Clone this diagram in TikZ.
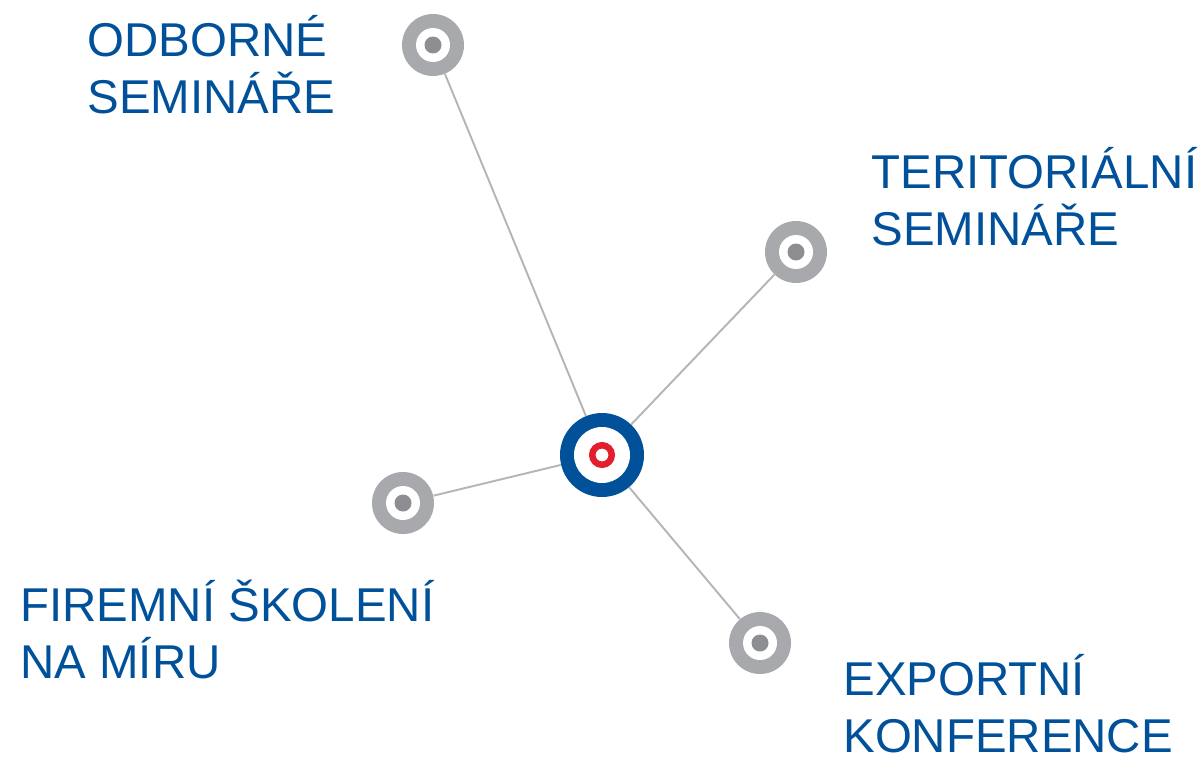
\documentclass[tikz,border=0pt]{standalone}
\usepackage{fontspec}
\setmainfont{Liberation Sans}
\usetikzlibrary{backgrounds}
\definecolor{hubblue}{HTML}{00519A}
\definecolor{hubred}{HTML}{E31E2D}
\definecolor{satgrey}{HTML}{A7A9AC}
\definecolor{dotgrey}{HTML}{8C8E91}
\definecolor{linkgrey}{HTML}{B5B5B5}
\tikzset{
	sat/.style={circle, fill=satgrey, minimum size=1.24cm, inner sep=0pt,
		path picture={\fill[white] (path picture bounding box.center) circle (0.34);
			\fill[dotgrey] (path picture bounding box.center) circle (0.17);}},
	hub/.style={circle, fill=hubblue, minimum size=1.68cm, inner sep=0pt,
		path picture={\fill[white] (path picture bounding box.center) circle (0.56);
			\draw[hubred, line width=0.13cm] (path picture bounding box.center) circle (0.195);}},
	lbl/.style={anchor=base west, align=left, inner sep=0pt, text=hubblue,
		font=\fontsize{27}{32}\selectfont},
	link/.style={draw=linkgrey, line width=1.1pt}
}

\begin{document}
\begin{tikzpicture}
			%%%%% START %%%%%
			\useasboundingbox (0, 0) rectangle (24.08, 15.14);
			
			\node[hub] (hub) at (12.04, 6.04) {};
			
			\node[sat] (odborne) at (8.66, 14.24) {};
			\node[sat] (teritorialni) at (15.92, 10.10) {};
			\node[sat] (firemni) at (8.06, 5.08) {};
			\node[sat] (exportni) at (15.20, 2.28) {};
			
			\begin{scope}[on background layer]
				\draw[link] (hub) -- (odborne);
				\draw[link] (hub) -- (teritorialni);
				\draw[link] (hub) -- (firemni);
				\draw[link] (hub) -- (exportni);
			\end{scope}
			
			% base anchor sits on the last line
			\node[lbl] (odborneText) at (1.74, 12.88) {ODBORNÉ\\SEMINÁŘE};
			\node[lbl] (teritorialniText) at (17.42, 10.24) {TERITORIÁLNÍ\\SEMINÁŘE};
			\node[lbl] (firemniText) at (0.40, 1.58) {FIREMNÍ ŠKOLENÍ\\NA MÍRU};
			\node[lbl] (exportniText) at (16.86, 0.10) {EXPORTNÍ\\KONFERENCE};
			%%%%% END %%%%%
\end{tikzpicture}
\end{document}
